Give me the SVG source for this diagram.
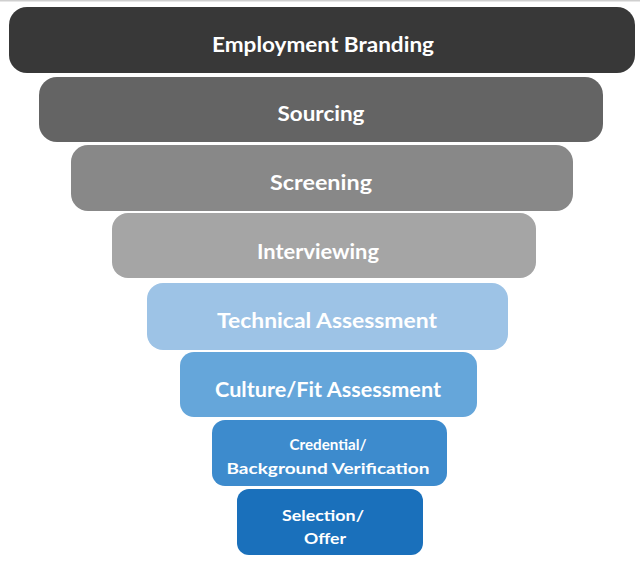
<svg xmlns="http://www.w3.org/2000/svg" width="640" height="563" viewBox="0 0 640 563">
<style>
.t{font-family:"Lato","Open Sans","Liberation Sans",sans-serif;font-weight:bold;fill:#ffffff;text-anchor:middle;dominant-baseline:central}
.l{font-size:20px}
.s{font-size:16px}
</style>
<rect x="0" y="0" width="640" height="563" fill="#ffffff"/>
<rect x="0" y="0" width="640" height="1.5" fill="#cfcfcf"/>
<g id="n1"><rect x="9" y="7" width="626" height="66" rx="18" fill="#383838"/><text class="t l" x="323" y="44" textLength="222" lengthAdjust="spacingAndGlyphs">Employment Branding</text></g>
<g id="n2"><rect x="39" y="77" width="564" height="65" rx="18" fill="#646464"/><text class="t l" x="321" y="113" textLength="87" lengthAdjust="spacingAndGlyphs">Sourcing</text></g>
<g id="n3"><rect x="71" y="145" width="502" height="66" rx="17" fill="#888888"/><text class="t l" x="321" y="182" textLength="102" lengthAdjust="spacingAndGlyphs">Screening</text></g>
<g id="n4"><rect x="112" y="213" width="424" height="65" rx="16" fill="#a5a5a5"/><text class="t l" x="318" y="251" textLength="122" lengthAdjust="spacingAndGlyphs">Interviewing</text></g>
<g id="n5"><rect x="147" y="283" width="361" height="67" rx="16" fill="#9dc3e6"/><text class="t l" x="327" y="320" textLength="220" lengthAdjust="spacingAndGlyphs">Technical Assessment</text></g>
<g id="n6"><rect x="180" y="352" width="297" height="65" rx="14" fill="#65a6da"/><text class="t l" x="328" y="389" textLength="226" lengthAdjust="spacingAndGlyphs">Culture/Fit Assessment</text></g>
<g id="n7"><rect x="212" y="420" width="235" height="66" rx="13" fill="#3d8bcd"/><text class="t s" x="328" y="443" textLength="77" lengthAdjust="spacingAndGlyphs">Credential/</text><text class="t s" x="328" y="467" textLength="203" lengthAdjust="spacingAndGlyphs">Background Verification</text></g>
<g id="n8"><rect x="237" y="489" width="186" height="66" rx="12" fill="#1a70bb"/><text class="t s" x="323" y="514" textLength="82" lengthAdjust="spacingAndGlyphs">Selection/</text><text class="t s" x="325" y="537" textLength="42" lengthAdjust="spacingAndGlyphs">Offer</text></g>
<g id="connectors"></g>
</svg>
